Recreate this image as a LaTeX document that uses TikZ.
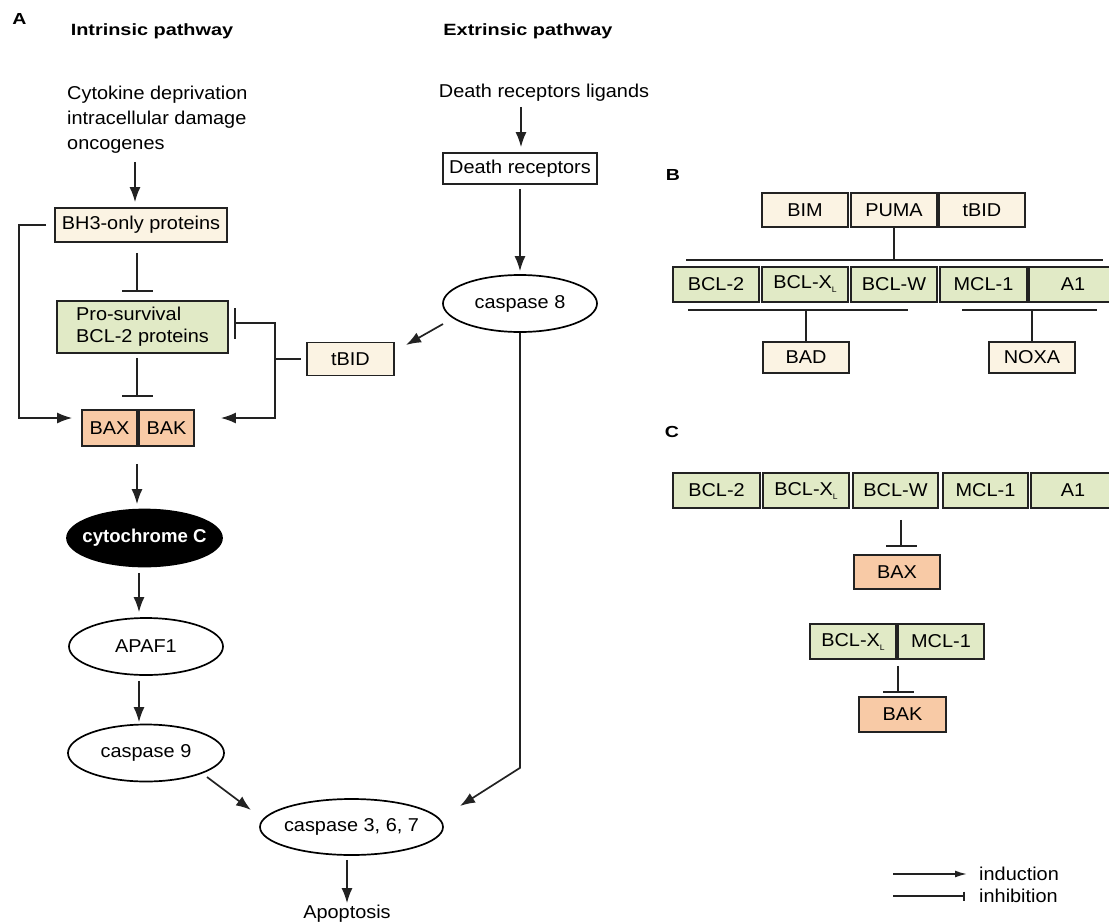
\documentclass[tikz,border=0pt]{standalone}
\usepackage{fontspec}
\setmainfont{Liberation Sans}[FakeStretch=1.07]
\newfontfamily\hdrfont{Liberation Sans}[FakeStretch=1.22]
\newfontfamily\cytfont{Liberation Sans}
\usetikzlibrary{arrows.meta,shapes.geometric}
\definecolor{cream}{HTML}{FBF3E3}
\definecolor{pgreen}{HTML}{E1EAC6}
\definecolor{salmon}{HTML}{F8CAA6}
\definecolor{edge}{HTML}{222222}
\newcommand\bclxl{BCL-X\raisebox{-4pt}{\fontsize{8}{8}\selectfont L}}
\begin{document}
\begin{tikzpicture}[x=1pt,y=-1pt,
  txt/.style={inner sep=0pt,font=\fontsize{18.6}{22}\selectfont},
  hdr/.style={inner sep=0pt,font=\hdrfont\bfseries\fontsize{16.3}{18}\selectfont},
  plab/.style={inner sep=0pt,font=\hdrfont\bfseries\fontsize{16}{17}\selectfont},
  box/.style={draw=edge,line width=1.7pt,rectangle,inner sep=0pt,font=\fontsize{18.6}{22}\selectfont},
  cbox/.style={box,fill=cream},
  gbox/.style={box,fill=pgreen,minimum height=35},
  sbox/.style={box,fill=salmon},
  oval/.style={draw=black,line width=1.7pt,ellipse,inner sep=0pt},
  otxt/.style={inner sep=0pt,font=\fontsize{18.6}{22}\selectfont},
  cyt/.style={inner sep=0pt,text=white,font=\cytfont\bfseries\fontsize{18.6}{22}\selectfont},
  ln/.style={line width=1.7pt,draw=edge},
  ind/.style={ln,-{Latex[length=15pt,width=11pt]}},
  inh/.style={ln,-{Bar[width=31pt]}}]
\useasboundingbox (0,0) rectangle (1109,924);

% ---- labels and headers
\node[plab] (labA) at (19.5,19) {A};
\node[plab] (labB) at (673,175) {B};
\node[plab] (labC) at (672,432) {C};
\node[hdr] (hint) at (152,31) {Intrinsic pathway};
\node[hdr] (hext) at (528,31) {Extrinsic pathway};

\coordinate (xa) at (135,0);
\coordinate (xb) at (137,0);
\coordinate (xc) at (139,0);
\coordinate (xd) at (521,0);
\coordinate (xe) at (347,0);
\coordinate (xf) at (901,0);
\coordinate (xg) at (898,0);
\coordinate (xj) at (275,0);

% ---- intrinsic pathway
\node[txt,align=left,anchor=west,font=\fontsize{18.6}{25}\selectfont] (cyto) at (67,120) {Cytokine deprivation\\intracellular damage\\oncogenes};
\node[cbox,minimum width=172,minimum height=34] (bh3) at (141,225) {BH3-only proteins};
\node[box,fill=pgreen,minimum width=171,minimum height=52,align=left] (pro) at (142.5,327) {Pro-survival\\BCL-2 proteins};
\node[sbox,minimum width=55,minimum height=36] (bax) at (109.5,428) {BAX};
\node[sbox,minimum width=55,minimum height=36] (bak) at (166.5,428) {BAK};
\node[cbox,minimum width=87,minimum height=33] (tbid) at (350.5,359) {tBID};
\node[oval,fill=black,minimum width=155,minimum height=57,label={[cyt]center:cytochrome C}] (cytc) at (144.5,538) {};
\node[oval,minimum width=154,minimum height=57,label={[otxt]center:APAF1}] (apaf) at (146,646.5) {};
\node[oval,minimum width=156,minimum height=57,label={[otxt]center:caspase 9}] (c9) at (146,753) {};
\node[oval,minimum width=183,minimum height=56,label={[otxt]center:caspase 3, 6, 7}] (c367) at (351.5,827) {};
\node[txt] (apop) at (347,914) {Apoptosis};

% ---- extrinsic pathway
\node[txt] (dlig) at (544,93) {Death receptors ligands};
\node[box,fill=white,minimum width=154,minimum height=31] (drec) at (520,168.5) {Death receptors};
\node[oval,minimum width=154,minimum height=57,label={[otxt]center:caspase 8}] (c8) at (520,303.5) {};

% ---- connectors A
\draw[ind,shorten <=8pt,shorten >=5pt] (cyto.south -| xa) -- (bh3.north -| xa);
\draw[inh,shorten <=10pt,shorten >=8pt] (bh3.south -| xb) -- (pro.north -| xb);
\draw[inh,shorten <=4pt,shorten >=12pt] (pro.south -| xb) -- (bax.north -| xb);
\draw[ind,shorten <=17pt,shorten >=4.5pt] (bax.south -| xb) -- (cytc.north -| xb);
\draw[ind,shorten <=5.5pt,shorten >=5pt] (cytc.south -| xc) -- (apaf.north -| xc);
\draw[ind,shorten <=5pt,shorten >=1.5pt] (apaf.south -| xc) -- (c9.north -| xc);
\draw[ind] ([shift={(61,24)}]c9.center) -- ([shift={(-100.5,-17)}]c367.center);
\draw[ind,shorten <=4pt,shorten >=2pt] (c367.south -| xe) -- (apop.north -| xe);
\draw[ind] ([xshift=-8pt]bh3.west) -- ++(-27,0) |- ([shift={(-9,-10)}]bax.west);
\coordinate (tjm) at (tbid.west -| xj);
\draw[ln] ([xshift=-5pt]tbid.west) -- (tjm);
\draw[inh] (tjm) |- ([shift={(5,-4)}]pro.east);
\draw[ind] (tjm) |- ([shift={(26,-10)}]bak.east);
\draw[ind,shorten <=5pt,shorten >=5pt] (dlig.south -| xd) -- (drec.north -| xd);
\draw[ind,shorten <=4pt,shorten >=3pt] (drec.south) -- (c8.north);
\draw[ind] ([shift={(-77,20.5)}]c8.center) -- ([shift={(55.5,-14)}]tbid.center);
\draw[ind] (c8.south) -- ++(0,435) -- ([shift={(108.5,-21)}]c367.center);

% ---- panel B
\node[cbox,minimum width=86,minimum height=34] (bim) at (805,210) {BIM};
\node[cbox,minimum width=86,minimum height=34] (puma) at (894,210) {PUMA};
\node[cbox,minimum width=86,minimum height=34] (tbidb) at (982,210) {tBID};
\coordinate (bl1) at (686,260);
\coordinate (bl2) at (1103,260);
\draw[ln] (puma.south) -- (puma.south |- bl1);
\draw[ln] (bl1) -- (bl2);
\node[gbox,minimum width=86] (bb2) at (716,284.5) {BCL-2};
\node[gbox,minimum width=86] (bbx) at (805,284.5) {\bclxl};
\node[gbox,minimum width=86] (bbw) at (894,284.5) {BCL-W};
\node[gbox,minimum width=87] (bbm) at (983.5,284.5) {MCL-1};
\node[gbox,minimum width=88] (bba) at (1073,284.5) {A1};
\coordinate (bu1) at (688,310);
\coordinate (bu2) at (908,310);
\coordinate (bu3) at (962,310);
\coordinate (bu4) at (1097,310);
\node[cbox,minimum width=86,minimum height=31] (bad) at (806,357.5) {BAD};
\node[cbox,minimum width=86,minimum height=31] (noxa) at (1032,357.5) {NOXA};
\draw[ln] (bu1) -- (bu2);
\draw[ln] (bad.north) -- (bad.north |- bu1);
\draw[ln] (bu3) -- (bu4);
\draw[ln] (noxa.north) -- (noxa.north |- bu3);

% ---- panel C
\node[gbox,minimum width=87] (c2) at (716.5,490.5) {BCL-2};
\node[gbox,minimum width=86] (cx) at (806,490.5) {\bclxl};
\node[gbox,minimum width=85] (cw) at (895.5,490.5) {BCL-W};
\node[gbox,minimum width=85] (cm) at (985.5,490.5) {MCL-1};
\node[gbox,minimum width=84] (ca) at (1073,490.5) {A1};
\node[sbox,minimum width=86,minimum height=34] (baxc) at (897,572) {BAX};
\draw[inh,shorten <=11pt,shorten >=7pt] (cw.south -| xf) -- (baxc.north -| xf);
\node[gbox,minimum width=86] (cx2) at (853,641.5) {\bclxl};
\node[gbox,minimum width=86] (cm2) at (941,641.5) {MCL-1};
\node[sbox,minimum width=87,minimum height=35] (bakc) at (902.5,714.5) {BAK};
\draw[inh,shorten <=6pt,shorten >=3pt] (cx2.south -| xg) -- (bakc.north -| xg);

% ---- legend
\coordinate (lg1) at (893,874);
\coordinate (lg2) at (893,896);
\node[txt,anchor=west] (lind) at (979,874) {induction};
\node[txt,anchor=west] (linh) at (979,896) {inhibition};
\draw[ln,-{Latex[length=12pt,width=7pt]}] (lg1) -- ([xshift=-12pt]lind.west);
\draw[ln,-{Bar[width=9pt]}] (lg2) -- ([xshift=-14pt]linh.west);
\end{tikzpicture}
\end{document}
